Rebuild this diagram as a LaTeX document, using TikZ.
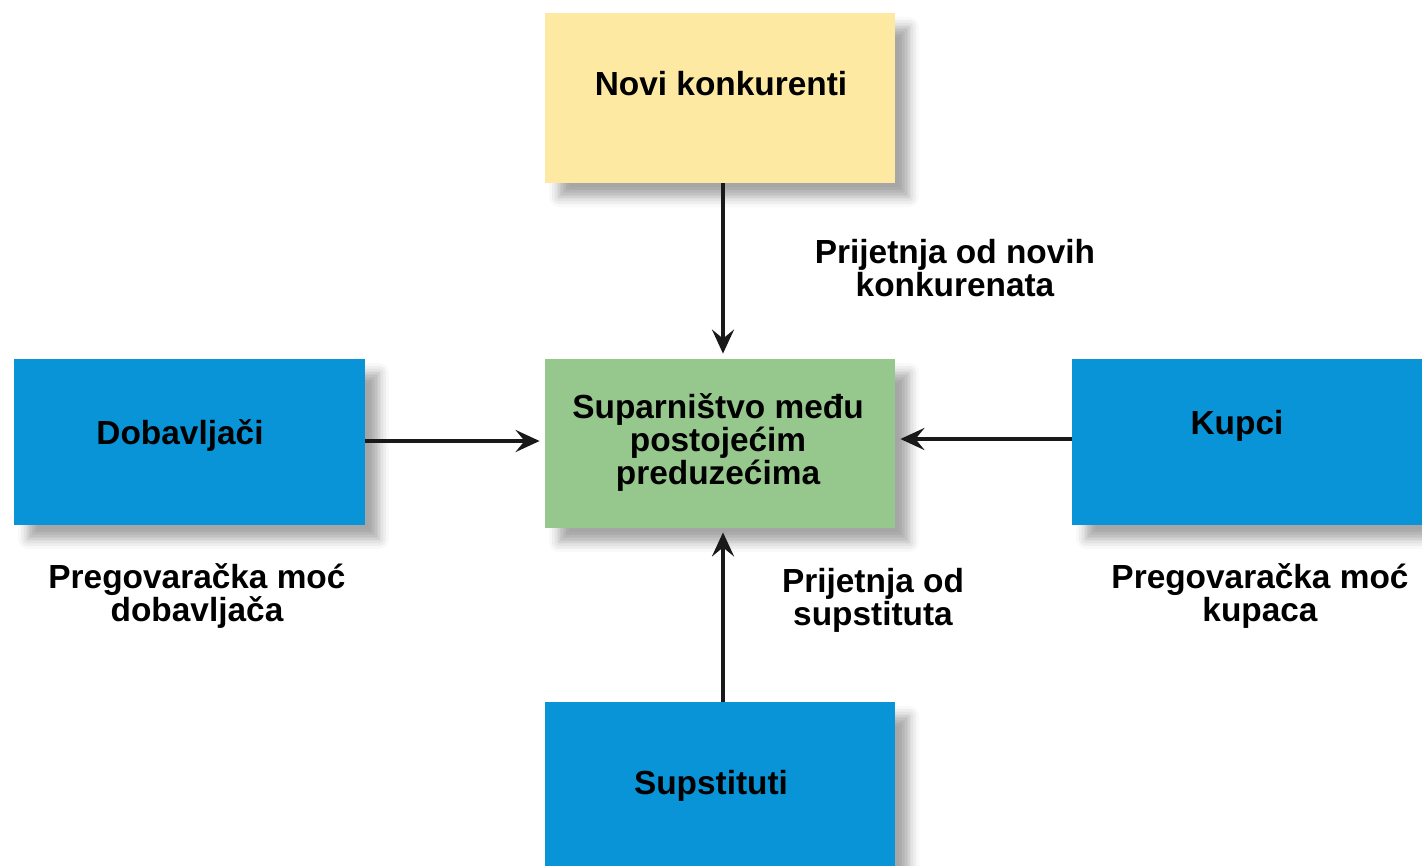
\documentclass[tikz,border=0pt]{standalone}
\usepackage{fontspec}
\setmainfont{Liberation Sans}
\usetikzlibrary{arrows.meta,shadows.blur}
\definecolor{boxyellow}{RGB}{253,233,161}
\definecolor{boxgreen}{RGB}{150,199,140}
\definecolor{boxblue}{RGB}{8,148,214}
\tikzset{
  box/.style={rectangle, inner sep=0pt, draw=none,
    blur shadow={shadow xshift=7pt, shadow yshift=-7pt, shadow blur radius=5pt, shadow opacity=35}},
  txt/.style={font=\bfseries\fontsize{16.7}{16.5}\selectfont, align=center, inner sep=0pt, text=black},
  arr/.style={line width=2.1pt, draw=black!90, -{Stealth[length=12pt,width=11pt,inset=4.5pt]}},
}
\begin{document}
\begin{tikzpicture}[x=0.5pt,y=-0.5pt]
\useasboundingbox (0,0) rectangle (1422,866);
% boxes
\node[box, fill=boxyellow, minimum width=175pt, minimum height=85pt] (novi) at (720,98) {};
\node[box, fill=boxgreen, minimum width=175pt, minimum height=84.5pt] (rival) at (720,443.5) {};
\node[box, fill=boxblue, minimum width=175.5pt, minimum height=83pt] (dob) at (189.5,442) {};
\node[box, fill=boxblue, minimum width=175pt, minimum height=83pt] (kup) at (1247,442) {};
\node[box, fill=boxblue, minimum width=175pt, minimum height=90pt] (sup) at (720,792) {};
% box texts
\node[txt] (tnovi) at (721,84) {Novi konkurenti};
\node[txt] (trival) at (718,442) {Suparništvo među\\postojećim\\preduzećima};
\node[txt] (tdob) at (180,435) {Dobavljači};
\node[txt] (tkup) at (1237,426) {Kupci};
\node[txt] (tsup) at (711,786) {Supstituti};
% side labels
\node[txt] (lnovi) at (955,268) {Prijetnja od novih\\konkurenata};
\node[txt] (ldob) at (197,596) {Pregovaračka moć\\dobavljača};
\node[txt] (lsup) at (873,600) {Prijetnja od\\supstituta};
\node[txt] (lkup) at (1260,596) {Pregovaračka moć\\kupaca};
% arrows
\draw[arr, shorten >=2.5pt] ([xshift=1.5pt]novi.south) -- ([xshift=1.5pt]rival.north);
\draw[arr, shorten >=2.5pt] (dob.east |- 0,441) -- (rival.west |- 0,441);
\draw[arr, shorten >=2.5pt] (kup.west |- 0,439) -- (rival.east |- 0,439);
\draw[arr, shorten >=2pt] ([xshift=1.5pt]sup.north) -- ([xshift=1.5pt]rival.south);
\end{tikzpicture}
\end{document}
